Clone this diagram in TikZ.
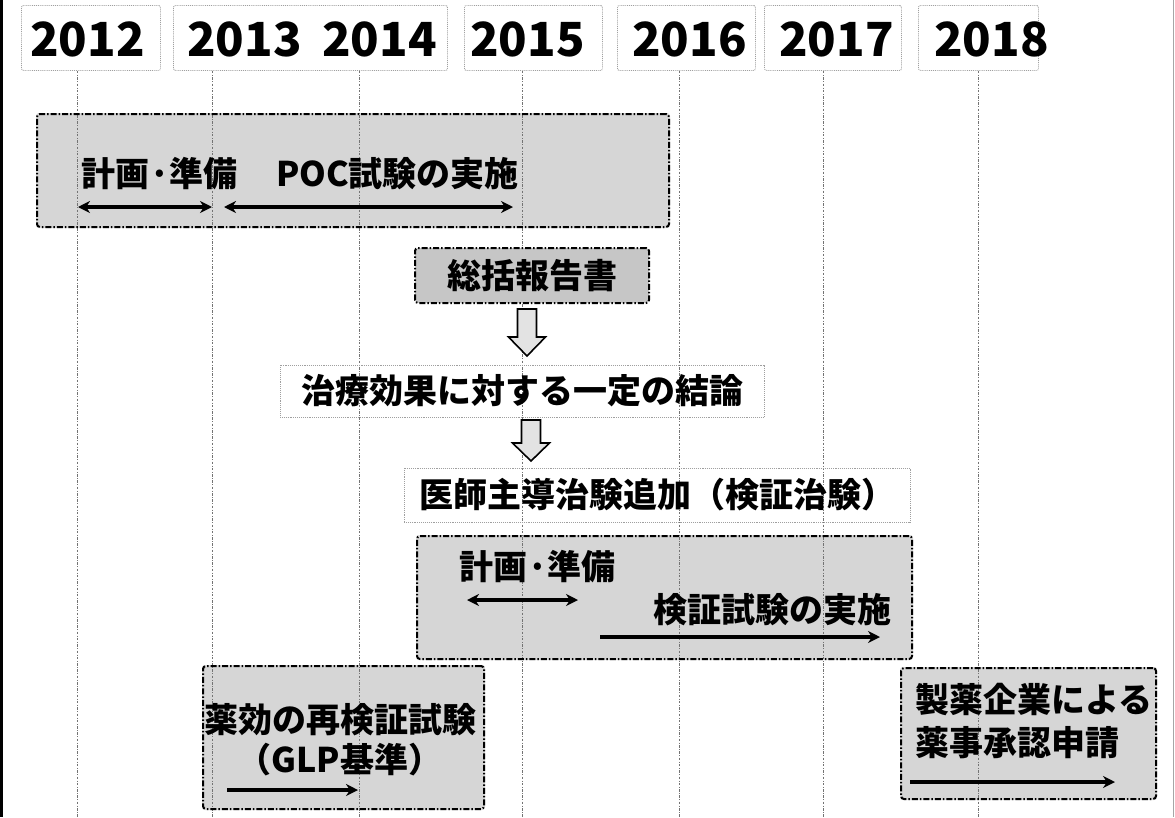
\documentclass[tikz,border=0pt]{standalone}
\usepackage{fontspec}
\setmainfont{Noto Sans CJK JP}
\usetikzlibrary{arrows.meta}
\pgfdeclarelayer{bg}
\pgfdeclarelayer{grid}
\pgfsetlayers{bg,grid,main}
\tikzset{
  yearbox/.style={draw=gray!75, densely dotted, line width=0.9pt, fill=white, rounded corners=2pt, inner sep=0pt},
  yr/.style={font=\bfseries\fontsize{47}{54}\selectfont, inner sep=0pt},
  lbl/.style={font=\bfseries\fontsize{34}{40}\selectfont, inner sep=0pt},
  phase/.style={draw=black, dash pattern=on 6pt off 2pt on 1.5pt off 2pt, line width=2pt, rounded corners=3pt, inner sep=0pt},
  note/.style={draw=gray!75, densely dotted, line width=0.9pt, inner sep=0pt},
  gridline/.style={draw=black!55, dash pattern=on 2.5pt off 1.5pt on 0.8pt off 1.5pt, line width=0.9pt},
  span/.style={line width=3.6pt, -{Stealth[length=12pt,width=12pt]}},
  dspan/.style={line width=3.6pt, {Stealth[length=12pt,width=12pt]}-{Stealth[length=12pt,width=12pt]}},
  hollow/.style={draw=black, line width=1.6pt, fill=gray!22, line join=miter},
  phasefill/.style={fill=gray!32}
}
\begin{document}
\begin{tikzpicture}[x=1pt,y=-1pt]
\useasboundingbox (0,0) rectangle (1175,817);
% frame edges
\draw[line width=3pt] (1.5,0) -- (1.5,817);
\draw[gray!70, line width=0.8pt] (1173.5,0) -- (1173.5,817);

% year boxes
\node[yearbox, anchor=north west, minimum width=139, minimum height=65] (y12) at (21,5) {};
\node[yearbox, anchor=north west, minimum width=274, minimum height=65] (y1314) at (173,5) {};
\node[yearbox, anchor=north west, minimum width=138, minimum height=65] (y15) at (464,5) {};
\node[yearbox, anchor=north west, minimum width=138, minimum height=65] (y16) at (617,5) {};
\node[yearbox, anchor=north west, minimum width=137, minimum height=65] (y17) at (764,5) {};
\node[yearbox, anchor=north west, minimum width=120, minimum height=65] (y18) at (918,5) {};
\node[yr, anchor=west] (t12) at (30,39) {2012};
\node[yr, anchor=west] (t13) at (187,39) {2013};
\node[yr, anchor=west] (t14) at (322,39) {2014};
\node[yr, anchor=west] (t15) at (470,39) {2015};
\node[yr, anchor=west] (t16) at (632,39) {2016};
\node[yr, anchor=west] (t17) at (779,39) {2017};
\node[yr, anchor=west] (t18) at (934,39) {2018};

% grid line ends
\coordinate (e12) at (77,817);
\coordinate (e13) at (212,817);
\coordinate (e14) at (359,817);
\coordinate (e15) at (522,817);
\coordinate (e16) at (679,817);
\coordinate (e17) at (823,817);
\coordinate (e18) at (978,817);
\begin{pgfonlayer}{grid}
\draw[gridline] (y12.south -| e12) -- (e12);
\draw[gridline] (y1314.south -| e13) -- (e13);
\draw[gridline] (y1314.south -| e14) -- (e14);
\draw[gridline] (y15.south -| e15) -- (e15);
\draw[gridline] (y16.south -| e16) -- (e16);
\draw[gridline] (y17.south -| e17) -- (e17);
\draw[gridline] (y18.south -| e18) -- (e18);
\end{pgfonlayer}

% phase 1: POC
\node[phase, anchor=north west, minimum width=632, minimum height=113] (b1) at (36,113) {};
\node[lbl, anchor=west] (p1a) at (81,174) {計画·準備};
\node[lbl, anchor=west] (p1b) at (276,174) {POC試験の実施};
\coordinate (s1a) at (78,207); \coordinate (s1b) at (212,207);
\coordinate (s1c) at (224,207); \coordinate (s1d) at (513,207);
\draw[dspan] (s1a) -- (s1b);
\draw[dspan] (s1c) -- (s1d);

% summary report
\node[phase, fill=gray!45, minimum width=234, minimum height=55, lbl] (b0) at (532,275.5) {総括報告書};
% conclusion
\node[note, minimum width=484, minimum height=52, lbl] (b2) at (522,391) {治療効果に対する一定の結論};
% investigator-led trial
\node[note, minimum width=506, minimum height=54, lbl] (b3) at (657,495) {医師主導治験追加（検証治験）};

% hollow arrows
\draw[hollow] (517.5,309) -- (536.5,309) -- (536.5,337) -- (545.5,337) -- (527,356) -- (508.5,337) -- (517.5,337) -- cycle;
\draw[hollow] (521.5,420) -- (540.5,420) -- (540.5,443) -- (549.5,443) -- (531,461) -- (512.5,443) -- (521.5,443) -- cycle;

% phase 2: verification trial
\node[phase, anchor=north west, minimum width=495, minimum height=123] (b4) at (416,535) {};
\node[lbl, anchor=west] (p4a) at (459,567) {計画·準備};
\node[lbl, anchor=west] (p4b) at (653,610) {検証試験の実施};
\coordinate (s4a) at (467,600); \coordinate (s4b) at (578,600);
\coordinate (s4c) at (600,637); \coordinate (s4d) at (880,637);
\draw[dspan] (s4a) -- (s4b);
\draw[span] (s4c) -- (s4d);

% re-verification GLP
\node[phase, anchor=north west, minimum width=281, minimum height=143] (b5) at (202,665) {};
\node[lbl] (p5a) at (340,720) {薬効の再検証試験};
\node[lbl] (p5b) at (340,760) {（GLP基準）};
\coordinate (s5a) at (227,790); \coordinate (s5b) at (358,790);
\draw[span] (s5a) -- (s5b);

% approval application
\node[phase, anchor=north west, minimum width=255, minimum height=131] (b6) at (900,667) {};
\node[lbl, anchor=west] (p6a) at (915,700) {製薬企業による};
\node[lbl, anchor=west] (p6b) at (915,743) {薬事承認申請};
\coordinate (s6a) at (910,782); \coordinate (s6b) at (1115,782);
\draw[span] (s6a) -- (s6b);

% fills behind grid lines
\begin{pgfonlayer}{bg}
\fill[phasefill, rounded corners=3pt] (b1.north west) rectangle (b1.south east);
\fill[phasefill, rounded corners=3pt] (b4.north west) rectangle (b4.south east);
\fill[phasefill, rounded corners=3pt] (b5.north west) rectangle (b5.south east);
\fill[phasefill, rounded corners=3pt] (b6.north west) rectangle (b6.south east);
\end{pgfonlayer}
\end{tikzpicture}
\end{document}
